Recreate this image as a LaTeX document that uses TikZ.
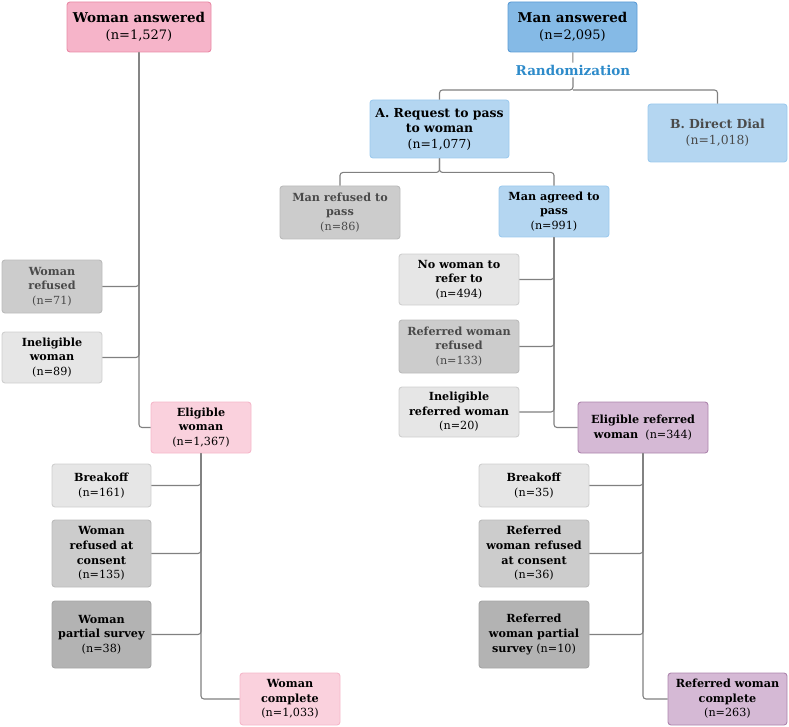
\documentclass[tikz,border=0pt]{standalone}
\usepackage{fontspec}
\setmainfont{DejaVu Serif}
\usepackage{tikz}
\usetikzlibrary{positioning, calc}

\definecolor{colPinkD}{HTML}{F6B4C9}
\definecolor{colPinkDe}{HTML}{E98AA6}
\definecolor{colPinkL}{HTML}{FAD1DD}
\definecolor{colPinkLe}{HTML}{F5B8CA}
\definecolor{colBlueD}{HTML}{85BAE6}
\definecolor{colBlueDe}{HTML}{5B9BD5}
\definecolor{colBlueL}{HTML}{B4D6F1}
\definecolor{colBlueLe}{HTML}{9DCAEE}
\definecolor{colGrayL}{HTML}{E6E6E6}
\definecolor{colGrayLe}{HTML}{CFCFCF}
\definecolor{colGrayM}{HTML}{CCCCCC}
\definecolor{colGrayMe}{HTML}{BBBBBB}
\definecolor{colGrayD}{HTML}{B3B3B3}
\definecolor{colGrayDe}{HTML}{A5A5A5}
\definecolor{colPurp}{HTML}{D5B9D5}
\definecolor{colPurpe}{HTML}{AD85AD}
\definecolor{colRand}{HTML}{2E8BCA}
\definecolor{colLink}{HTML}{808080}
\definecolor{colMuted}{HTML}{4A4A4A}

\begin{document}
\begin{tikzpicture}[x=1pt, y=-1pt,
    box/.style={draw, rounded corners=3pt, line width=0.9pt, align=center,
        inner sep=1pt, font=\fontsize{11.2}{14.6}\selectfont},
    topbox/.style={box, font=\fontsize{12.4}{15.5}\selectfont},
    titlebox/.style={box, font=\fontsize{13}{16.5}\selectfont},
    pinkD/.style={fill=colPinkD, draw=colPinkDe},
    pinkL/.style={fill=colPinkL, draw=colPinkLe},
    blueD/.style={fill=colBlueD, draw=colBlueDe},
    blueL/.style={fill=colBlueL, draw=colBlueLe},
    grayL/.style={fill=colGrayL, draw=colGrayLe},
    grayM/.style={fill=colGrayM, draw=colGrayMe},
    grayD/.style={fill=colGrayD, draw=colGrayDe},
    purp/.style={fill=colPurp, draw=colPurpe},
    muted/.style={text=colMuted},
    link/.style={draw=colLink, line width=1.1pt, rounded corners=3pt}]

    \useasboundingbox (0,0) rectangle (789,727);

    % --- Woman answered side ---
    \node[titlebox, pinkD, minimum width=144pt, minimum height=50pt] (wans) at (139,27)
        {{\fontsize{13.5}{16}\selectfont\textbf{Woman answered}}\\(n=1,527)};
    \node[box, grayM, muted, minimum width=100pt, minimum height=53pt] (wref) at (52,286.5)
        {\textbf{Woman}\\\textbf{refused}\\(n=71)};
    \node[box, grayL, minimum width=100pt, minimum height=51pt] (winel) at (52,357.5)
        {\textbf{Ineligible}\\\textbf{woman}\\(n=89)};
    \node[box, pinkL, minimum width=100pt, minimum height=51pt] (welig) at (201,427.5)
        {\textbf{Eligible}\\\textbf{woman}\\(n=1,367)};

    % Hasil wawancara perempuan
    \node[box, grayL, minimum width=99pt, minimum height=43pt] (wbrk) at (101.5,485.5)
        {\textbf{Breakoff}\\(n=161)};
    \node[box, grayM, minimum width=99pt, minimum height=67pt] (wcons) at (101.5,553.5)
        {\textbf{Woman}\\\textbf{refused at}\\\textbf{consent}\\(n=135)};
    \node[box, grayD, minimum width=99pt, minimum height=67pt] (wpart) at (101.5,634.5)
        {\textbf{Woman}\\\textbf{partial survey}\\(n=38)};
    \node[box, pinkL, minimum width=100pt, minimum height=52pt] (wcomp) at (290,699)
        {\textbf{Woman}\\\textbf{complete}\\(n=1,033)};

    \draw[link] (wans.south) |- (wref.east);
    \draw[link] (wans.south) |- (winel.east);
    \draw[link] (wans.south) |- (welig.west);
    \draw[link] (welig.south) |- (wbrk.east);
    \draw[link] (welig.south) |- (wcons.east);
    \draw[link] (welig.south) |- (wpart.east);
    \draw[link] (welig.south) |- (wcomp.west);

    % --- Man answered side ---
    \node[titlebox, blueD, minimum width=129pt, minimum height=50pt] (mans) at (572.5,27)
        {{\fontsize{13.5}{16}\selectfont\textbf{Man answered}}\\(n=2,095)};
    \node[text=colRand, font=\fontsize{13.5}{15}\selectfont\bfseries, inner sep=2pt] (rand) at (573,70)
        {Randomization};
    \coordinate (split) at (573,90);
    \node[topbox, blueL, minimum width=139pt, minimum height=58pt] (reqA) at (439.5,129)
        {\textbf{A. Request to pass}\\\textbf{to woman}\\(n=1,077)};
    \node[topbox, blueL, text=colMuted, minimum width=139pt, minimum height=58pt] (dial) at (717.5,133)
        {\textbf{B. Direct Dial}\\(n=1,018)};

    \draw[link] (mans) -- (rand);
    \draw[link] (rand) -- (split) -| (reqA);
    \draw[link] (split) -| (dial);

    % Setelah permintaan
    \node[box, grayM, muted, minimum width=120pt, minimum height=53pt] (mref) at (340,212.5)
        {\textbf{Man refused to}\\\textbf{pass}\\(n=86)};
    \node[box, blueL, minimum width=110pt, minimum height=51pt] (magr) at (554,211.5)
        {\textbf{Man agreed to}\\\textbf{pass}\\(n=991)};

    \draw[link] (reqA.south) -- ++(0,14) -| (mref);
    \draw[link] (reqA.south) -- ++(0,14) -| (magr);

    \node[box, grayL, minimum width=120pt, minimum height=51pt] (nowo) at (459,279.5)
        {\textbf{No woman to}\\\textbf{refer to}\\(n=494)};
    \node[box, grayM, muted, minimum width=120pt, minimum height=53pt] (rwref) at (459,346.5)
        {\textbf{Referred woman}\\\textbf{refused}\\(n=133)};
    \node[box, grayL, minimum width=120pt, minimum height=50pt] (inelr) at (459,412)
        {\textbf{Ineligible}\\\textbf{referred woman}\\(n=20)};
    \node[box, purp, minimum width=130pt, minimum height=51pt] (eref) at (643,427.5)
        {\textbf{Eligible referred}\\\textbf{woman}~~(n=344)};

    \draw[link] (magr.south) |- (nowo.east);
    \draw[link] (magr.south) |- (rwref.east);
    \draw[link] (magr.south) |- (inelr.east);
    \draw[link] (magr.south) |- (eref.west);

    % Hasil wawancara perempuan rujukan
    \node[box, grayL, minimum width=110pt, minimum height=43pt] (rbrk) at (534,485.5)
        {\textbf{Breakoff}\\(n=35)};
    \node[box, grayM, minimum width=110pt, minimum height=67pt] (rcons) at (534,553.5)
        {\textbf{Referred}\\\textbf{woman refused}\\\textbf{at consent}\\(n=36)};
    \node[box, grayD, minimum width=110pt, minimum height=67pt] (rpart) at (534,634.5)
        {\textbf{Referred}\\\textbf{woman partial}\\\textbf{survey} (n=10)};
    \node[box, purp, minimum width=119pt, minimum height=52pt] (rcomp) at (727.5,699)
        {\textbf{Referred woman}\\\textbf{complete}\\(n=263)};

    \draw[link] (eref.south) |- (rbrk.east);
    \draw[link] (eref.south) |- (rcons.east);
    \draw[link] (eref.south) |- (rpart.east);
    \draw[link] (eref.south) |- (rcomp.west);

\end{tikzpicture}
\end{document}
